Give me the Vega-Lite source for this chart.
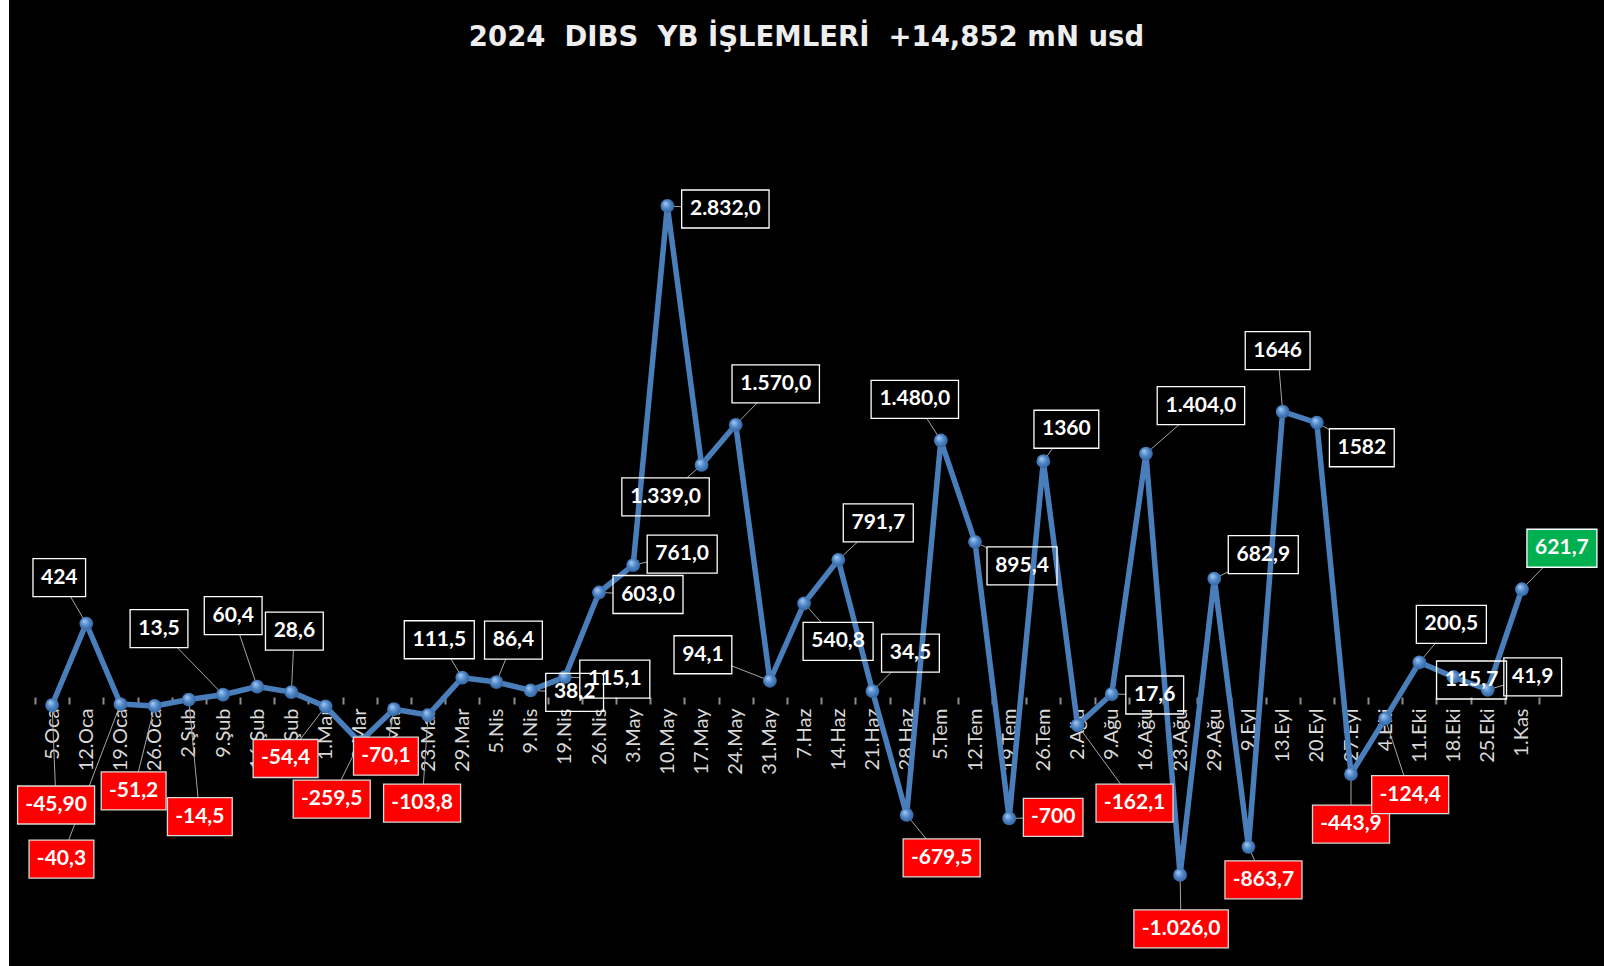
{
  "$schema": "https://vega.github.io/schema/vega-lite/v6.json",
  "width": 1595,
  "height": 966,
  "autosize": {"type": "none"},
  "padding": {"left": 9, "top": 0, "right": 0, "bottom": 0},
  "background": "#ffffff",
  "config": {"view": {"fill": "#000000", "stroke": null}},
  "title": {
    "text": "2024\u00a0 DIBS\u00a0 YB İŞLEMLERİ\u00a0 +14,852 mN usd",
    "font": "DejaVu Sans",
    "fontSize": 27.5,
    "fontWeight": "bold",
    "color": "#eeeeee",
    "anchor": "middle",
    "baseline": "alphabetic",
    "offset": -73
  },
  "params": [
    {"name": "ox", "value": {"5.Oca": 4, "12.Oca": -27, "19.Oca": -59, "26.Oca": -21, "2.Şub": 11, "9.Şub": -64, "16.Şub": -24, "23.Şub": 3, "1.Mar": -40, "8.Mar": -28, "15.Mar": -8, "23.Mar": -6, "29.Mar": -23, "5.Nis": 17, "9.Nis": 44, "19.Nis": 50, "26.Nis": 49, "3.May": 49, "10.May": 58, "17.May": -36, "24.May": 40, "31.May": -67, "7.Haz": 34, "14.Haz": 40, "21.Haz": 38, "28.Haz": 35, "5.Tem": -26, "12.Tem": 47, "19.Tem": 44, "26.Tem": 23, "2.Ağu": 57, "9.Ağu": 43, "16.Ağu": 55, "23.Ağu": 1, "29.Ağu": 49, "9.Eyl": 15, "13.Eyl": -5, "20.Eyl": 45, "27.Eyl": 0, "4.Eki": 25, "11.Eki": 32, "18.Eki": 18, "25.Eki": 45, "1.Kas": 40}},
    {"name": "oy", "value": {"5.Oca": 100, "12.Oca": -46, "19.Oca": 155, "26.Oca": 85, "2.Şub": 117, "9.Şub": -66, "16.Şub": -71, "23.Şub": -61, "1.Mar": 52, "8.Mar": 57, "15.Mar": 47, "23.Mar": 88, "29.Mar": -38, "5.Nis": -42, "9.Nis": 2, "19.Nis": 2, "26.Nis": 2, "3.May": -11, "10.May": 3, "17.May": 32, "24.May": -41, "31.May": -26, "7.Haz": 38, "14.Haz": -37, "21.Haz": -38, "28.Haz": 43, "5.Tem": -41, "12.Tem": 24, "19.Tem": -1, "26.Tem": -32, "2.Ağu": 78, "9.Ağu": 1, "16.Ağu": -48, "23.Ağu": 54, "29.Ağu": -24, "9.Eyl": 33, "13.Eyl": -61, "20.Eyl": 25, "27.Eyl": 50, "4.Eki": 76, "11.Eki": -38, "18.Eki": 3, "25.Eki": -13, "1.Kas": -41}}
  ],
  "data": {"values": [
    {"d": "5.Oca", "v": -45.9, "t": "-45,90"},
    {"d": "12.Oca", "v": 424, "t": "424"},
    {"d": "19.Oca", "v": -40.3, "t": "-40,3"},
    {"d": "26.Oca", "v": -51.2, "t": "-51,2"},
    {"d": "2.Şub", "v": -14.5, "t": "-14,5"},
    {"d": "9.Şub", "v": 13.5, "t": "13,5"},
    {"d": "16.Şub", "v": 60.4, "t": "60,4"},
    {"d": "23.Şub", "v": 28.6, "t": "28,6"},
    {"d": "1.Mar", "v": -54.4, "t": "-54,4"},
    {"d": "8.Mar", "v": -259.5, "t": "-259,5"},
    {"d": "15.Mar", "v": -70.1, "t": "-70,1"},
    {"d": "23.Mar", "v": -103.8, "t": "-103,8"},
    {"d": "29.Mar", "v": 111.5, "t": "111,5"},
    {"d": "5.Nis", "v": 86.4, "t": "86,4"},
    {"d": "9.Nis", "v": 38.2, "t": "38,2"},
    {"d": "19.Nis", "v": 115.1, "t": "115,1"},
    {"d": "26.Nis", "v": 603.0, "t": "603,0"},
    {"d": "3.May", "v": 761.0, "t": "761,0"},
    {"d": "10.May", "v": 2832.0, "t": "2.832,0"},
    {"d": "17.May", "v": 1339.0, "t": "1.339,0"},
    {"d": "24.May", "v": 1570.0, "t": "1.570,0"},
    {"d": "31.May", "v": 94.1, "t": "94,1"},
    {"d": "7.Haz", "v": 540.8, "t": "540,8"},
    {"d": "14.Haz", "v": 791.7, "t": "791,7"},
    {"d": "21.Haz", "v": 34.5, "t": "34,5"},
    {"d": "28.Haz", "v": -679.5, "t": "-679,5"},
    {"d": "5.Tem", "v": 1480.0, "t": "1.480,0"},
    {"d": "12.Tem", "v": 895.4, "t": "895,4"},
    {"d": "19.Tem", "v": -700, "t": "-700"},
    {"d": "26.Tem", "v": 1360, "t": "1360"},
    {"d": "2.Ağu", "v": -162.1, "t": "-162,1"},
    {"d": "9.Ağu", "v": 17.6, "t": "17,6"},
    {"d": "16.Ağu", "v": 1404.0, "t": "1.404,0"},
    {"d": "23.Ağu", "v": -1026.0, "t": "-1.026,0"},
    {"d": "29.Ağu", "v": 682.9, "t": "682,9"},
    {"d": "9.Eyl", "v": -863.7, "t": "-863,7"},
    {"d": "13.Eyl", "v": 1646, "t": "1646"},
    {"d": "20.Eyl", "v": 1582, "t": "1582"},
    {"d": "27.Eyl", "v": -443.9, "t": "-443,9"},
    {"d": "4.Eki", "v": -124.4, "t": "-124,4"},
    {"d": "11.Eki", "v": 200.5, "t": "200,5"},
    {"d": "18.Eki", "v": 115.7, "t": "115,7"},
    {"d": "25.Eki", "v": 41.9, "t": "41,9"},
    {"d": "1.Kas", "v": 621.7, "t": "621,7"}
  ]},
  "encoding": {
    "x": {
      "field": "d", "type": "nominal", "sort": null,
      "scale": {
        "type": "band",
        "domain": ["5.Oca", "12.Oca", "19.Oca", "26.Oca", "2.Şub", "9.Şub", "16.Şub", "23.Şub", "1.Mar", "8.Mar", "15.Mar", "23.Mar", "29.Mar", "5.Nis", "9.Nis", "19.Nis", "26.Nis", "3.May", "10.May", "17.May", "24.May", "31.May", "7.Haz", "14.Haz", "21.Haz", "28.Haz", "5.Tem", "12.Tem", "19.Tem", "26.Tem", "2.Ağu", "9.Ağu", "16.Ağu", "23.Ağu", "29.Ağu", "9.Eyl", "13.Eyl", "20.Eyl", "27.Eyl", "4.Eki", "11.Eki", "18.Eki", "25.Eki", "1.Kas"],
        "range": [26, 1530],
        "paddingInner": 0, "paddingOuter": 0
      },
      "axis": {
        "title": null, "orient": "bottom", "offset": -269, "domain": false, "grid": false,
        "ticks": true, "tickBand": "extent", "tickSize": 7, "tickWidth": 2, "tickColor": "#8c8c8c",
        "labelAngle": 270, "labelFont": "Lato", "labelFontSize": 20, "labelColor": "#d9d9d9",
        "labelPadding": 4, "labelOverlap": false, "labelBound": false, "labelFlush": false
      }
    },
    "y": {"field": "v", "type": "quantitative", "scale": {"domain": [-1551, 4020], "nice": false, "zero": false}, "axis": null}
  },
  "layer": [
    {
      "data": {"values": [{}]},
      "mark": {"type": "rule", "color": "#8c8c8c", "strokeWidth": 2.5},
      "encoding": {
        "x": {"datum": "5.Oca", "type": "nominal", "bandPosition": 0},
        "x2": {"datum": "1.Kas", "bandPosition": 1},
        "y": {"datum": 0}
      }
    },
    {
      "mark": {
        "type": "rule", "color": "#a6a6a6", "strokeWidth": 1,
        "x2Offset": {"expr": "ox[datum.d]*(1-min(1,min((16+12.2*length(replace(datum.t,regexp('[^0-9]','g'),''))+5.2*length(replace(datum.t,regexp('[^.,]','g'),''))+7*length(replace(datum.t,regexp('[^-]','g'),'')))/2/abs(ox[datum.d]),19/abs(oy[datum.d]))))"},
        "y2Offset": {"expr": "oy[datum.d]*(1-min(1,min((16+12.2*length(replace(datum.t,regexp('[^0-9]','g'),''))+5.2*length(replace(datum.t,regexp('[^.,]','g'),''))+7*length(replace(datum.t,regexp('[^-]','g'),'')))/2/abs(ox[datum.d]),19/abs(oy[datum.d]))))"}
      },
      "encoding": {"x2": {"field": "d"}, "y2": {"field": "v"}}
    },
    {
      "mark": {"type": "line", "color": "#4a7ebb", "strokeWidth": 5.5, "strokeJoin": "round"}
    },
    {
      "mark": {
        "type": "point", "filled": true, "opacity": 1, "size": 190, "strokeWidth": 0,
        "fill": {"gradient": "radial", "x1": 0.35, "y1": 0.3, "r1": 0, "x2": 0.5, "y2": 0.5, "r2": 0.6,
          "stops": [{"offset": 0, "color": "#a9cdf5"}, {"offset": 0.5, "color": "#4f86c6"}, {"offset": 1, "color": "#2b5c96"}]}
      }
    },
    {
      "mark": {
        "type": "point", "filled": true, "opacity": 1, "size": 4, "strokeWidth": 1.3,
        "shape": {"expr": "'M'+(-(16+12.2*length(replace(datum.t,regexp('[^0-9]','g'),''))+5.2*length(replace(datum.t,regexp('[^.,]','g'),''))+7*length(replace(datum.t,regexp('[^-]','g'),'')))/2)+',-19H'+((16+12.2*length(replace(datum.t,regexp('[^0-9]','g'),''))+5.2*length(replace(datum.t,regexp('[^.,]','g'),''))+7*length(replace(datum.t,regexp('[^-]','g'),'')))/2)+'V19H'+(-(16+12.2*length(replace(datum.t,regexp('[^0-9]','g'),''))+5.2*length(replace(datum.t,regexp('[^.,]','g'),''))+7*length(replace(datum.t,regexp('[^-]','g'),'')))/2)+'Z'"},
        "xOffset": {"expr": "ox[datum.d]"},
        "yOffset": {"expr": "oy[datum.d]"},
        "fill": {"expr": "datum.d == '1.Kas' ? '#00b050' : (datum.v < 0 ? '#ff0000' : 'rgba(0,0,0,0)')"},
        "stroke": {"expr": "datum.v < 0 ? '#d9d9d9' : '#ffffff'"}
      }
    },
    {
      "mark": {
        "type": "text", "font": "Lato", "fontSize": 21, "fontWeight": "bold", "fill": "#ffffff",
        "align": "center", "baseline": "middle",
        "dx": {"expr": "ox[datum.d]"},
        "dy": {"expr": "oy[datum.d]"}
      },
      "encoding": {"text": {"field": "t"}}
    }
  ]
}
